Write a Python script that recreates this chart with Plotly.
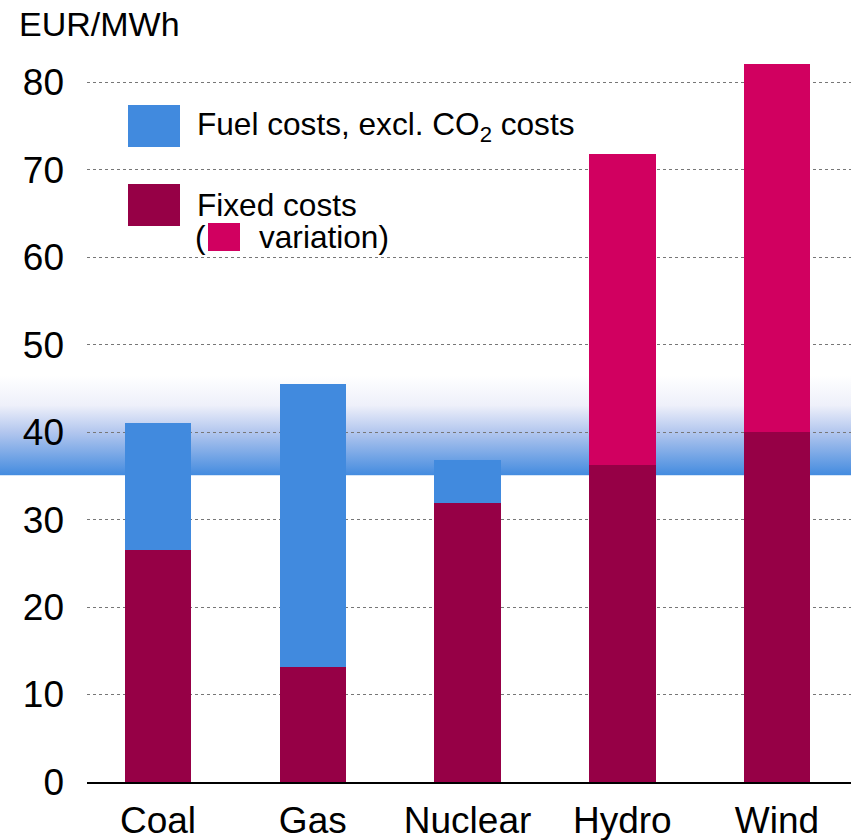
import base64
import plotly.graph_objects as go

categories = ["Coal", "Gas", "Nuclear", "Hydro", "Wind"]
fixed_costs = [26.5, 13.1, 31.9, 36.2, 40.05]
fuel_costs = [14.6, 32.4, 4.9, 0, 0]
variation = [0, 0, 0, 35.6, 42.05]
y_ticks = [0, 10, 20, 30, 40, 50, 60, 70, 80]

C_FIXED = "#960046"
C_FUEL = "#418ade"
C_VAR = "#d10060"
FONT = "Arial, Liberation Sans, sans-serif"

W, H = 851, 840
ML, MR, MT, MB = 87, 0, 48, 58
PW, PH = W - ML - MR, H - MT - MB
YMAX = PH / 8.746

def px(x):
    return (x - ML) / PW

def py(y):
    return (H - MB - y) / PH

fig = go.Figure()
fig.add_trace(go.Bar(x=categories, y=fixed_costs, marker=dict(color=C_FIXED, line=dict(width=0)),
                     width=0.43, showlegend=False))
fig.add_trace(go.Bar(x=categories, y=fuel_costs, marker=dict(color=C_FUEL, line=dict(width=0)),
                     width=0.43, showlegend=False))
fig.add_trace(go.Bar(x=categories, y=variation, marker=dict(color=C_VAR, line=dict(width=0)),
                     width=0.43, showlegend=False))

# gradient band behind the chart (SVG image)
svg = ('<svg xmlns="http://www.w3.org/2000/svg" width="100" height="100" viewBox="0 0 100 100" '
       'preserveAspectRatio="none"><defs><linearGradient id="g" x1="0" y1="0" x2="0" y2="1">'
       '<stop offset="0" stop-color="#ffffff"/>'
       '<stop offset="0.3" stop-color="#eef0fa"/>'
       '<stop offset="0.57" stop-color="#b2c6ee"/>'
       '<stop offset="1" stop-color="#438bdf"/>'
       '</linearGradient></defs><rect x="0" y="0" width="100" height="100" fill="url(#g)"/></svg>')
src = "data:image/svg+xml;base64," + base64.b64encode(svg.encode()).decode()
band_lo, band_hi = 35.05, 46.5
fig.add_layout_image(dict(source=src, xref="paper", yref="y", x=-ML / PW, y=band_hi,
                          sizex=1 + ML / PW, sizey=band_hi - band_lo, sizing="stretch",
                          xanchor="left", yanchor="top", layer="below"))

shapes = []

def box(x0, y0, x1, y1, color):
    shapes.append(dict(type="rect", xref="paper", yref="paper", x0=px(x0), x1=px(x1),
                       y0=py(y1), y1=py(y0), fillcolor=color, line=dict(width=0), layer="above"))

box(128, 105, 180, 147, C_FUEL)
box(128, 184, 180, 226, C_FIXED)
box(208, 223, 240, 251, C_VAR)

LF = 31.6
annotations = [
    dict(text="EUR/MWh", xref="paper", yref="paper", x=px(17), y=py(3), xanchor="left", yanchor="top",
         showarrow=False, font=dict(size=34, color="black", family=FONT)),
    dict(text="Fuel costs, excl. CO<sub>2</sub> costs", xref="paper", yref="paper", x=px(195), y=py(127),
         xanchor="left", yanchor="middle", showarrow=False, font=dict(size=LF, color="black", family=FONT)),
    dict(text="Fixed costs", xref="paper", yref="paper", x=px(195), y=py(205),
         xanchor="left", yanchor="middle", showarrow=False, font=dict(size=LF, color="black", family=FONT)),
    dict(text="(", xref="paper", yref="paper", x=px(193), y=py(237),
         xanchor="left", yanchor="middle", showarrow=False, font=dict(size=LF, color="black", family=FONT)),
    dict(text="variation)", xref="paper", yref="paper", x=px(257), y=py(237),
         xanchor="left", yanchor="middle", showarrow=False, font=dict(size=LF, color="black", family=FONT)),
]

fig.update_layout(
    barmode="stack",
    width=W, height=H,
    margin=dict(l=ML, r=MR, t=MT, b=MB, pad=0),
    paper_bgcolor="white", plot_bgcolor="rgba(0,0,0,0)",
    font=dict(family=FONT, color="black"),
    shapes=shapes, annotations=annotations,
    showlegend=False,
)
fig.update_xaxes(range=[-0.459, 4.478], showgrid=False, showline=True, linecolor="black", linewidth=2,
                 ticks="", tickfont=dict(size=37, family=FONT, color="black"), ticklabelstandoff=5,
                 fixedrange=True)
fig.update_yaxes(range=[0, YMAX], tickvals=y_ticks, showgrid=True, gridcolor="#777777", griddash="dot",
                 gridwidth=1, zeroline=False, showline=False, ticks="",
                 tickfont=dict(size=37, family=FONT, color="black"), ticklabelstandoff=22, fixedrange=True)

fig.write_html("out.html")
